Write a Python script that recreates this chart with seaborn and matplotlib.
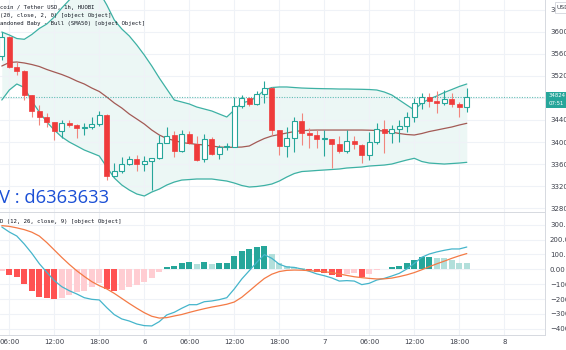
import numpy as np
import pandas as pd
import matplotlib
matplotlib.use("Agg")
import matplotlib.pyplot as plt
from matplotlib.patches import Rectangle
import seaborn as sns

# ---------------- data ----------------
open_ = [35560, 35900, 35365, 35290, 34855, 34570, 34450, 34355, 34205, 34345,
         34310, 34255, 34265, 34320, 34490, 33380, 33475, 33610, 33690, 33600,
         33660, 33705, 33985, 34125, 33845, 34145, 33970, 33685, 34050, 33785,
         33905, 33910, 34655, 34795, 34685, 34865, 34980, 34215, 33925, 34070,
         34380, 34160, 34130, 34050, 34055, 33960, 33845, 34025, 33955, 33765,
         34005, 34230, 34170, 34230, 34290, 34450, 34700, 34810, 34745, 34715,
         34780, 34685, 34630]
high_ = [35995, 35920, 35455, 35305, 34860, 34670, 34520, 34360, 34400, 34400,
         34325, 34340, 34450, 34560, 34510, 33620, 33730, 33745, 33765, 33745,
         33715, 34120, 34265, 34200, 34210, 34205, 34110, 34145, 34095, 33945,
         33975, 34815, 34855, 34820, 34925, 35110, 35005, 34220, 34280, 34450,
         34520, 34250, 34220, 34220, 34060, 34110, 34220, 34110, 33960, 34190,
         34340, 34400, 34310, 34400, 34550, 34795, 34885, 34895, 34930, 34945,
         34885, 34730, 34975]
low_ = [35485, 35340, 35215, 34760, 34450, 34310, 34275, 34035, 34070, 34265,
        34070, 34130, 34235, 34290, 33310, 33365, 33440, 33585, 33475, 33480,
        33130, 33700, 33980, 33735, 33825, 33965, 33660, 33645, 33765, 33700,
        33855, 33905, 34610, 34650, 34670, 34715, 34130, 33765, 33735, 33825,
        33945, 33885, 33885, 33745, 33525, 33795, 33795, 33870, 33625, 33675,
        33965, 33805, 33975, 34005, 34190, 34370, 34595, 34640, 34530, 34670,
        34640, 34460, 34550]
close_ = [35905, 35360, 35295, 34855, 34570, 34450, 34355, 34205, 34345, 34310,
          34255, 34265, 34325, 34490, 33385, 33475, 33610, 33690, 33600, 33660,
          33705, 33985, 34110, 33845, 34145, 33975, 33680, 34050, 33785, 33910,
          33910, 34655, 34795, 34685, 34865, 34980, 34215, 33925, 34070, 34380,
          34160, 34130, 34050, 34055, 33965, 33845, 34025, 33960, 33765, 34005,
          34230, 34170, 34230, 34290, 34450, 34700, 34810, 34745, 34715, 34780,
          34685, 34630, 34824]

bb_upper = [35994, 35940, 35876, 35862, 35949, 36058, 36139, 36266, 36429, 36574,
            36719, 36791, 36791, 36719, 36484, 36212, 36049, 35922, 35759, 35577,
            35378, 35161, 34961, 34762, 34726, 34690, 34635, 34599, 34563, 34508,
            34454, 34581, 34708, 34744, 34816, 34943, 34988, 34998, 34998, 34988,
            34979, 34974, 34970, 34967, 34965, 34961, 34961, 34958, 34956, 34952,
            34943, 34907, 34853, 34762, 34671, 34581, 34708, 34780, 34835, 34898,
            34952, 35007, 35052]
bb_basis = [35378, 35442, 35451, 35433, 35405, 35369, 35315, 35269, 35224, 35170,
            35106, 35052, 34979, 34916, 34816, 34708, 34617, 34508, 34418, 34327,
            34218, 34128, 34064, 34028, 33992, 33974, 33959, 33947, 33929, 33910,
            33905, 33905, 33910, 33929, 34001, 34064, 34110, 34137, 34164, 34191,
            34206, 34215, 34218, 34218, 34218, 34218, 34218, 34218, 34218, 34215,
            34210, 34200, 34182, 34155, 34137, 34128, 34155, 34191, 34218, 34246,
            34273, 34309, 34340]
bb_lower = [34762, 34943, 35052, 34989, 34744, 34545, 34363, 34218, 34092, 34001,
            33929, 33856, 33802, 33747, 33548, 33349, 33222, 33131, 33059, 33023,
            33095, 33149, 33222, 33276, 33312, 33321, 33331, 33331, 33331, 33312,
            33294, 33258, 33213, 33186, 33195, 33213, 33240, 33294, 33367, 33430,
            33466, 33475, 33485, 33494, 33503, 33512, 33530, 33539, 33548, 33566,
            33575, 33584, 33602, 33639, 33675, 33706, 33648, 33620, 33611, 33602,
            33611, 33620, 33633]

macd_line = [285, 251, 224, 170, 108, 38, -20, -76, -117, -144,
             -166, -191, -202, -206, -258, -305, -334, -348, -368, -379,
             -381, -352, -307, -289, -262, -238, -238, -218, -213, -204,
             -191, -132, -65, -9, 47, 99, 74, 34, 16, 13,
             2, -13, -31, -43, -58, -79, -76, -79, -103, -94,
             -72, -61, -45, -27, 2, 40, 81, 103, 117, 128,
             137, 137, 150]
signal_line = [294, 289, 279, 267, 250, 224, 180, 130, 80, 33,
               -10, -48, -83, -110, -132, -162, -196, -230, -262, -292,
               -316, -328, -325, -314, -304, -290, -277, -265, -254, -245,
               -235, -220, -188, -146, -103, -62, -33, -15, -7, -5,
               -6, -9, -12, -16, -22, -31, -41, -50, -56, -61,
               -65, -64, -59, -49, -37, -22, -3, 18, 37, 55,
               74, 91, 106]
histogram = [-9, -38, -54, -99, -144, -184, -191, -200, -191, -173,
             -150, -144, -117, -90, -132, -146, -139, -117, -105, -83,
             -61, -20, 18, 22, 45, 52, 36, 47, 38, 43,
             44, 92, 123, 135, 148, 155, 103, 45, 22, 17,
             7, -4, -20, -27, -38, -49, -34, -27, -49, -34,
             -4, 4, 16, 22, 40, 63, 83, 84, 79, 74,
             63, 45, 44]

price_ticks = [32800, 33200, 33600, 34000, 34400, 34800, 35200, 35600, 36000, 36400]
macd_ticks = [-400, -300, -200, -100, 0, 100, 200, 300]
first_candle = "2021-07-05 05:00"
tick_start, tick_end = "2021-07-05 06:00", "2021-07-08 00:00"

title_line = "coin / Tether USD, 1h, HUOBI"
bb_line = "(20, close, 2, 0) [object Object]"
ab_line = "andoned Baby - Bull (SMA50) [object Object]"
macd_title = "D (12, 26, close, 9) [object Object]"
watermark = "V : d6363633"
countdown = "07:51"

# ---------------- styling ----------------
sns.set_theme(style="white")
plt.rcParams['font.family'] = ['DejaVu Sans']

UP = '#26a69a'
DOWN = '#ef3b3b'
DOWN_WICK = '#f1867d'
BAND = '#3db1a4'
BASIS = '#a35a55'
FILL = '#ecf7f5'
GRID = '#eff2f7'
SPINE = '#d6d9e0'
TXT = '#3c3f4a'

W, H = 566, 350
fig = plt.figure(figsize=(W / 100, H / 100), dpi=100)
fig.patch.set_facecolor('white')

def fx(px):
    return px / W

def fy(py):
    return 1 - py / H

ax = fig.add_axes([0, fy(212), fx(545), 212 / H])
axm = fig.add_axes([0, fy(335), fx(545), (335 - 213) / H])

t0 = pd.Timestamp(first_candle)
times = pd.date_range(t0, periods=len(close_), freq="h")
x = np.asarray((times - t0) / pd.Timedelta(hours=1), dtype=float)
tick_times = pd.date_range(tick_start, tick_end, freq="6h")
tick_x = np.asarray((tick_times - t0) / pd.Timedelta(hours=1), dtype=float)
tick_labels = [str(t.day) if t.hour == 0 else t.strftime("%H:%M") for t in tick_times]

xlim = (-0.24, 72.43)

# ---------------- main panel ----------------
ax.fill_between(x, bb_lower, bb_upper, color=FILL, lw=0, zorder=0.5)
sns.lineplot(x=x, y=bb_upper, ax=ax, color=BAND, lw=0.9, zorder=1)
sns.lineplot(x=x, y=bb_lower, ax=ax, color=BAND, lw=0.9, zorder=1)
sns.lineplot(x=x, y=bb_basis, ax=ax, color=BASIS, lw=0.9, zorder=1)

ax.axhline(close_[-1], color=UP, lw=0.8, ls=(0, (1, 1.3)), alpha=0.7, zorder=1.5)

bw = 0.66
minh = 16
for xi, o, h, l, c in zip(x, open_, high_, low_, close_):
    up = c >= o
    lo, hi = min(o, c), max(o, c)
    hgt = max(hi - lo, minh)
    if up:
        ax.vlines(xi, l, h, color=UP, lw=0.8, zorder=2)
        ax.add_patch(Rectangle((xi - bw / 2, lo), bw, hgt, facecolor='white',
                               edgecolor=UP, lw=0.8, zorder=3))
    else:
        ax.vlines(xi, l, h, color=DOWN_WICK, lw=0.8, zorder=2)
        ax.add_patch(Rectangle((xi - bw / 2, lo), bw, hgt, facecolor=DOWN,
                               edgecolor=DOWN, lw=0.5, zorder=3))

ax.set_xlim(*xlim)
ax.set_ylim(32733, 36574)
ax.set_xticks(tick_x)
ax.set_yticks(price_ticks)
# the tick label hidden behind the last-price tag is left blank
last_bucket = min(price_ticks, key=lambda v: abs(v - close_[-1]))
ax.set_yticklabels(['' if v == last_bucket else str(v) for v in price_ticks])
ax.yaxis.tick_right()
ax.tick_params(axis='x', labelbottom=False, length=0)
ax.tick_params(axis='y', length=0, pad=3.6, labelsize=5, labelcolor=TXT)
ax.grid(True, color=GRID, lw=0.8)
ax.set_axisbelow(True)
ax.set_xlabel('')
ax.set_ylabel('')
for s in ['top', 'left']:
    ax.spines[s].set_visible(False)
for s in ['right', 'bottom']:
    ax.spines[s].set_color(SPINE)
    ax.spines[s].set_linewidth(0.7)

# ---------------- MACD panel ----------------
hcols = []
prev = histogram[0]
for h in histogram:
    if h >= 0:
        hcols.append('#26a69a' if h > prev else '#b2dfdb')
    else:
        hcols.append('#ff5252' if h < prev else '#ffcdd2')
    prev = h
axm.bar(x, histogram, width=0.8, color=hcols, lw=0, zorder=2)
sns.lineplot(x=x, y=macd_line, ax=axm, color='#45b5cb', lw=0.9, zorder=3)
sns.lineplot(x=x, y=signal_line, ax=axm, color='#f47a45', lw=0.9, zorder=3)

axm.set_xlim(*xlim)
axm.set_ylim(-442, 379)
axm.set_xticks(tick_x)
axm.set_xticklabels(tick_labels)
axm.set_yticks(macd_ticks)
axm.set_yticklabels([f"{v:.2f}".replace("-", "\u2212") for v in macd_ticks])
axm.yaxis.tick_right()
axm.tick_params(axis='x', length=0, pad=3.2, labelsize=5, labelcolor=TXT)
axm.tick_params(axis='y', length=0, pad=3.6, labelsize=5, labelcolor=TXT)
axm.grid(True, color=GRID, lw=0.8)
axm.set_axisbelow(True)
axm.set_xlabel('')
axm.set_ylabel('')
for s in ['top', 'left']:
    axm.spines[s].set_visible(False)
for s in ['right', 'bottom']:
    axm.spines[s].set_color(SPINE)
    axm.spines[s].set_linewidth(0.7)

# ---------------- texts ----------------
mono = dict(family='DejaVu Sans Mono', fontsize=4.1, color='#131722', va='center', ha='left')
fig.text(fx(0), fy(7), title_line, **mono)
fig.text(fx(0), fy(15.5), bb_line, **mono)
fig.text(fx(0), fy(24), ab_line, **mono)
fig.text(fx(0), fy(222), macd_title, **mono)

fig.text(fx(-1), fy(202.7), watermark, family='Open Sans', fontsize=13.2,
         color='#1a4fd6', va='baseline', ha='left')

# last-price label on the price scale
fig.patches.append(Rectangle((fx(546), fy(107.5)), fx(22), 16 / H, transform=fig.transFigure,
                             facecolor=UP, edgecolor='none', zorder=5))
fig.text(fx(549), fy(95.8), f"{close_[-1]}", fontsize=3.9, color='white', va='center',
         ha='left', zorder=6)
fig.text(fx(549), fy(103.2), countdown, fontsize=3.9, color='white', va='center',
         ha='left', zorder=6)

# currency box
fig.patches.append(Rectangle((fx(555), fy(13)), fx(14), 11 / H, transform=fig.transFigure,
                             facecolor='white', edgecolor='#c9ccd4', lw=0.5, zorder=5))
fig.text(fx(556.5), fy(7.5), "USD", fontsize=4.3, color=TXT, va='center', ha='left', zorder=6)

fig.savefig("out.png", dpi=100, facecolor='white')
